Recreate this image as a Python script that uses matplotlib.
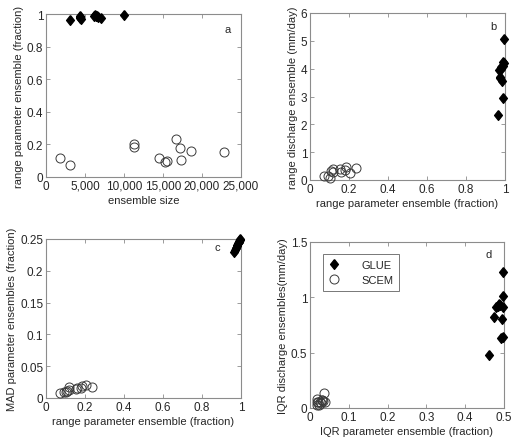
import matplotlib
matplotlib.use("Agg")
import matplotlib.pyplot as plt
from matplotlib.ticker import FixedLocator, FixedFormatter

plt.rcParams['font.family'] = ['Liberation Sans', 'DejaVu Sans']

# ---------------- data ----------------
# GLUE
glue_size = [3100, 4300, 4350, 4400, 4450, 6100, 6300, 6400, 6500, 6700, 7000, 10000]
glue_range = [0.965, 0.990, 0.975, 0.980, 0.968, 0.990, 0.995, 0.985, 0.990, 0.980, 0.975, 0.993]
glue_qrange = [2.35, 4.25, 3.70, 4.00, 3.95, 2.95, 5.07, 3.55, 4.10, 4.05, 3.65, 4.20]
glue_mad = [0.230, 0.246, 0.236, 0.240, 0.233, 0.245, 0.250, 0.243, 0.247, 0.239, 0.236, 0.249]
glue_iqr_p = [0.461, 0.497, 0.474, 0.479, 0.487, 0.491, 0.498, 0.496, 0.490, 0.484, 0.497, 0.497]
glue_iqr_q = [0.48, 1.01, 0.82, 0.915, 0.94, 0.63, 1.23, 0.80, 0.93, 0.92, 0.915, 0.64]

# SCEM
scem_size = [1820, 3050, 11270, 11230, 14520, 15220, 15550, 16710, 17120, 17290, 18600, 22850]
scem_range = [0.116, 0.073, 0.203, 0.185, 0.116, 0.091, 0.100, 0.236, 0.177, 0.106, 0.160, 0.152]
scem_qrange = [0.38, 0.15, 0.26, 0.48, 0.27, 0.14, 0.06, 0.42, 0.36, 0.32, 0.27, 0.39]
scem_mad = [0.018, 0.008, 0.021, 0.019, 0.013, 0.009, 0.010, 0.018, 0.016, 0.011, 0.015, 0.014]
scem_iqr_p = [0.017, 0.019, 0.019, 0.026, 0.030, 0.034, 0.037, 0.039, 0.024, 0.028, 0.032, 0.021]
scem_iqr_q = [0.054, 0.030, 0.085, 0.051, 0.075, 0.060, 0.136, 0.051, 0.030, 0.045, 0.069, 0.050]

labels = ['GLUE', 'SCEM']

# ---------------- figure ----------------
W, H = 517, 439
fig = plt.figure(figsize=(W / 100, H / 100), dpi=100)

def rect(l, r, t, b):
    return [l / W, 1 - b / H, (r - l) / W, (b - t) / H]

axA = fig.add_axes(rect(46, 241, 15, 178))
axB = fig.add_axes(rect(310, 505, 14, 181))
axC = fig.add_axes(rect(46, 241, 240, 399))
axD = fig.add_axes(rect(310, 504, 243, 409))

diamond = [(0, 1), (0.8, 0), (0, -1), (-0.8, 0), (0, 1)]
txt = '#262626'
spine = '#8c8c8c'
fs = 8
tfs = 8.5

def style(ax, xt, xtl, yt, ytl, xlim, ylim, xlabel, ylabel, letter, lpos):
    ax.set_xlim(*xlim)
    ax.set_ylim(*ylim)
    ax.xaxis.set_major_locator(FixedLocator(xt))
    ax.xaxis.set_major_formatter(FixedFormatter(xtl))
    ax.yaxis.set_major_locator(FixedLocator(yt))
    ax.yaxis.set_major_formatter(FixedFormatter(ytl))
    ax.tick_params(direction='in', length=3, width=0.6, color=spine,
                   top=True, right=True, labelsize=tfs, labelcolor=txt, pad=2)
    for s in ax.spines.values():
        s.set_color(spine)
        s.set_linewidth(0.8)
    ax.set_xlabel(xlabel, fontsize=fs, color=txt, labelpad=2)
    ax.set_ylabel(ylabel, fontsize=fs, color=txt, labelpad=2)
    ax.text(lpos[0], lpos[1], letter, transform=ax.transAxes, fontsize=fs,
            color=txt, ha='center', va='center')

def plot_pair(ax, gx, gy, sx, sy):
    g = ax.plot(gx, gy, linestyle='none', marker=diamond, markersize=7,
                color='black', clip_on=False, zorder=3)[0]
    s = ax.plot(sx, sy, linestyle='none', marker='o', markersize=6.5,
                markerfacecolor='none', markeredgecolor='#3a3a3a',
                markeredgewidth=0.7, clip_on=False, zorder=3)[0]
    return g, s

# panel a
plot_pair(axA, glue_size, glue_range, scem_size, scem_range)
style(axA, [0, 5000, 10000, 15000, 20000, 25000],
      ['0', '5,000', '10,000', '15,000', '20,000', '25,000'],
      [0, 0.2, 0.4, 0.6, 0.8, 1], ['0', '0.2', '0.4', '0.6', '0.8', '1'],
      (0, 25000), (0, 1), 'ensemble size', 'range parameter ensemble (fraction)',
      'a', (0.93, 0.91))

# panel b
plot_pair(axB, glue_range, glue_qrange, scem_range, scem_qrange)
style(axB, [0, 0.2, 0.4, 0.6, 0.8, 1], ['0', '0.2', '0.4', '0.6', '0.8', '1'],
      [0, 1, 2, 3, 4, 5, 6], ['0', '1', '2', '3', '4', '5', '6'],
      (0, 1), (0, 6), 'range parameter ensemble (fraction)',
      'range discharge ensemble (mm/day)', 'b', (0.94, 0.92))

# panel c
plot_pair(axC, glue_range, glue_mad, scem_range, scem_mad)
style(axC, [0, 0.2, 0.4, 0.6, 0.8, 1], ['0', '0.2', '0.4', '0.6', '0.8', '1'],
      [0, 0.05, 0.1, 0.15, 0.2, 0.25], ['0', '0.05', '0.1', '0.15', '0.2', '0.25'],
      (0, 1), (0, 0.25), 'range parameter ensemble (fraction)',
      'MAD parameter ensembles (fraction)', 'c', (0.88, 0.95))

# panel d
g, s = plot_pair(axD, glue_iqr_p, glue_iqr_q, scem_iqr_p, scem_iqr_q)
style(axD, [0, 0.1, 0.2, 0.3, 0.4, 0.5], ['0', '0.1', '0.2', '0.3', '0.4', '0.5'],
      [0, 0.5, 1, 1.5], ['0', '0.5', '1', '1.5'],
      (0, 0.5), (0, 1.5), 'IQR parameter ensemble (fraction)',
      'IQR discharge ensembles(mm/day)', 'd', (0.92, 0.93))
leg = axD.legend([g, s], labels, loc='upper left', bbox_to_anchor=(0.067, 0.925),
                 fontsize=fs, frameon=True, fancybox=False, borderpad=0.5,
                 handletextpad=2.0, labelspacing=0.45, handlelength=1.0,
                 borderaxespad=0, labelcolor=txt)
leg.get_frame().set_edgecolor('#555555')
leg.get_frame().set_linewidth(0.7)

fig.savefig('out.png', dpi=100)
